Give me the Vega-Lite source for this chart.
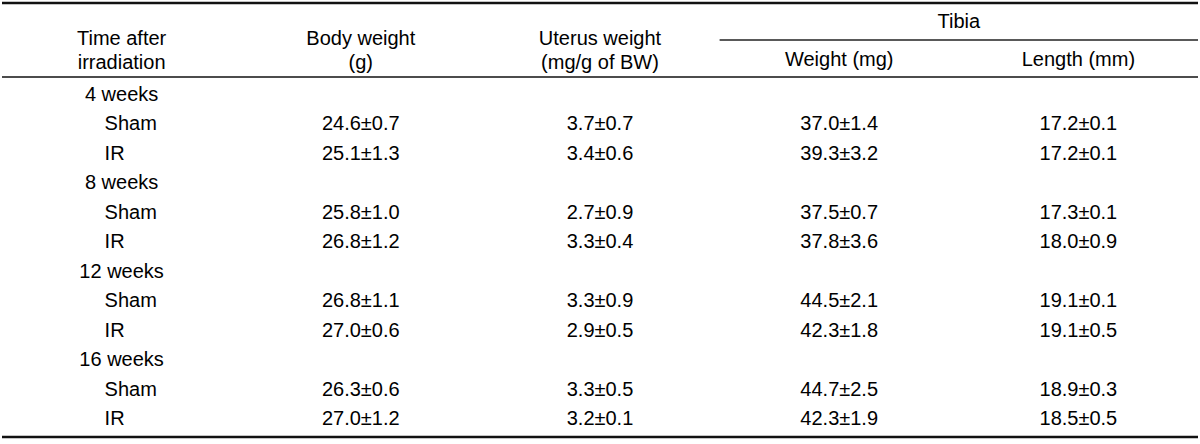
{
  "$schema": "https://vega.github.io/schema/vega-lite/v6.json",
  "width": 1200,
  "height": 444,
  "autosize": {"type": "fit", "contains": "padding"},
  "padding": 0,
  "background": "white",
  "config": {
    "view": {"stroke": null},
    "text": {"font": "Liberation Sans", "fontSize": 20, "color": "#000000", "baseline": "middle"}
  },
  "datasets": {
    "weeks": [
      {"row": "4w", "label": "4 weeks"},
      {"row": "8w", "label": "8 weeks"},
      {"row": "12w", "label": "12 weeks"},
      {"row": "16w", "label": "16 weeks"}
    ],
    "groups": [
      {"row": "4w-Sham", "group": "Sham", "body": "24.6±0.7", "uterus": "3.7±0.7", "tibiaW": "37.0±1.4", "tibiaL": "17.2±0.1"},
      {"row": "4w-IR", "group": "IR", "body": "25.1±1.3", "uterus": "3.4±0.6", "tibiaW": "39.3±3.2", "tibiaL": "17.2±0.1"},
      {"row": "8w-Sham", "group": "Sham", "body": "25.8±1.0", "uterus": "2.7±0.9", "tibiaW": "37.5±0.7", "tibiaL": "17.3±0.1"},
      {"row": "8w-IR", "group": "IR", "body": "26.8±1.2", "uterus": "3.3±0.4", "tibiaW": "37.8±3.6", "tibiaL": "18.0±0.9"},
      {"row": "12w-Sham", "group": "Sham", "body": "26.8±1.1", "uterus": "3.3±0.9", "tibiaW": "44.5±2.1", "tibiaL": "19.1±0.1"},
      {"row": "12w-IR", "group": "IR", "body": "27.0±0.6", "uterus": "2.9±0.5", "tibiaW": "42.3±1.8", "tibiaL": "19.1±0.5"},
      {"row": "16w-Sham", "group": "Sham", "body": "26.3±0.6", "uterus": "3.3±0.5", "tibiaW": "44.7±2.5", "tibiaL": "18.9±0.3"},
      {"row": "16w-IR", "group": "IR", "body": "27.0±1.2", "uterus": "3.2±0.1", "tibiaW": "42.3±1.9", "tibiaL": "18.5±0.5"}
    ],
    "headers": [
      {"col": "label", "text": ["Time after", "irradiation"]},
      {"col": "body", "text": ["Body weight", "(g)"]},
      {"col": "uterus", "text": ["Uterus weight", "(mg/g of BW)"]}
    ],
    "subheaders": [
      {"col": "tibiaW", "text": "Weight (mg)"},
      {"col": "tibiaL", "text": "Length (mm)"}
    ],
    "span": [{"from": "tibiaW", "to": "tibiaL", "text": "Tibia"}]
  },
  "resolve": {"scale": {"y": "independent"}},
  "layer": [
    {
      "data": {"name": "weeks"},
      "mark": {"type": "text", "align": "center"},
      "encoding": {
        "x": {"datum": "label", "type": "nominal", "axis": null,
              "scale": {"type": "band", "domain": ["label", "body", "uterus", "tibiaW", "tibiaL"], "paddingInner": 0, "paddingOuter": 0}},
        "y": {"field": "row", "type": "nominal", "axis": null,
              "scale": {"type": "band", "domain": ["4w", "4w-Sham", "4w-IR", "8w", "8w-Sham", "8w-IR", "12w", "12w-Sham", "12w-IR", "16w", "16w-Sham", "16w-IR"], "range": [77, 437], "paddingInner": 0, "paddingOuter": 0.111}},
        "text": {"field": "label"}
      }
    },
    {
      "data": {"name": "groups"},
      "layer": [
        {
          "mark": {"type": "text", "align": "left", "dx": -17},
          "encoding": {
            "x": {"datum": "label", "type": "nominal", "axis": null,
                  "scale": {"type": "band", "domain": ["label", "body", "uterus", "tibiaW", "tibiaL"], "paddingInner": 0, "paddingOuter": 0}},
            "y": {"field": "row", "type": "nominal", "axis": null,
                  "scale": {"type": "band", "domain": ["4w", "4w-Sham", "4w-IR", "8w", "8w-Sham", "8w-IR", "12w", "12w-Sham", "12w-IR", "16w", "16w-Sham", "16w-IR"], "range": [77, 437], "paddingInner": 0, "paddingOuter": 0.111}},
            "text": {"field": "group"}
          }
        },
        {
          "transform": [{"fold": ["body", "uterus", "tibiaW", "tibiaL"], "as": ["col", "val"]}],
          "mark": {"type": "text", "align": "center"},
          "encoding": {
            "x": {"field": "col", "type": "nominal", "axis": null,
                  "scale": {"type": "band", "domain": ["label", "body", "uterus", "tibiaW", "tibiaL"], "paddingInner": 0, "paddingOuter": 0}},
            "y": {"field": "row", "type": "nominal", "axis": null,
                  "scale": {"type": "band", "domain": ["4w", "4w-Sham", "4w-IR", "8w", "8w-Sham", "8w-IR", "12w", "12w-Sham", "12w-IR", "16w", "16w-Sham", "16w-IR"], "range": [77, 437], "paddingInner": 0, "paddingOuter": 0.111}},
            "text": {"field": "val"}
          }
        }
      ]
    },
    {
      "data": {"name": "headers"},
      "mark": {"type": "text", "align": "center", "lineHeight": 24, "dy": -1},
      "encoding": {
        "x": {"field": "col", "type": "nominal", "axis": null,
              "scale": {"type": "band", "domain": ["label", "body", "uterus", "tibiaW", "tibiaL"], "paddingInner": 0, "paddingOuter": 0}},
        "y": {"datum": "mid", "type": "nominal", "axis": null,
              "scale": {"type": "point", "domain": ["top", "l1", "mid", "l3", "hline"], "range": [3, 77], "padding": 0}},
        "text": {"field": "text"}
      }
    },
    {
      "data": {"name": "subheaders"},
      "mark": {"type": "text", "align": "center", "dy": 1},
      "encoding": {
        "x": {"field": "col", "type": "nominal", "axis": null,
              "scale": {"type": "band", "domain": ["label", "body", "uterus", "tibiaW", "tibiaL"], "paddingInner": 0, "paddingOuter": 0}},
        "y": {"datum": "l3", "type": "nominal", "axis": null,
              "scale": {"type": "point", "domain": ["top", "l1", "mid", "l3", "hline"], "range": [3, 77], "padding": 0}},
        "text": {"field": "text"}
      }
    },
    {
      "data": {"name": "span"},
      "mark": {"type": "text", "align": "center"},
      "encoding": {
        "x": {"field": "from", "type": "nominal", "axis": null, "bandPosition": 1,
              "scale": {"type": "band", "domain": ["label", "body", "uterus", "tibiaW", "tibiaL"], "paddingInner": 0, "paddingOuter": 0}},
        "y": {"datum": "l1", "type": "nominal", "axis": null,
              "scale": {"type": "point", "domain": ["top", "l1", "mid", "l3", "hline"], "range": [3, 77], "padding": 0}},
        "text": {"field": "text"}
      }
    },
    {
      "data": {"name": "span"},
      "mark": {"type": "rule", "color": "#222222", "strokeWidth": 1.3},
      "encoding": {
        "x": {"field": "from", "type": "nominal", "axis": null, "bandPosition": 0,
              "scale": {"type": "band", "domain": ["label", "body", "uterus", "tibiaW", "tibiaL"], "paddingInner": 0, "paddingOuter": 0}},
        "x2": {"field": "to", "bandPosition": 1},
        "y": {"datum": "mid", "type": "nominal", "axis": null,
              "scale": {"type": "point", "domain": ["top", "l1", "mid", "l3", "hline"], "range": [3, 77], "padding": 0}}
      }
    },
    {
      "data": {"values": [{"line": "top", "w": "thick"}, {"line": "hline", "w": "thin"}]},
      "mark": {"type": "rule", "color": "#111111"},
      "encoding": {
        "y": {"field": "line", "type": "nominal", "axis": null,
              "scale": {"type": "point", "domain": ["top", "l1", "mid", "l3", "hline"], "range": [3, 77], "padding": 0}},
        "strokeWidth": {"field": "w", "type": "nominal", "legend": null,
                        "scale": {"domain": ["thick", "thin"], "range": [2.6, 1.3]}}
      }
    },
    {
      "data": {"values": [{"line": "bottom"}]},
      "mark": {"type": "rule", "color": "#111111", "strokeWidth": 2.6},
      "encoding": {
        "y": {"field": "line", "type": "nominal", "axis": null,
              "scale": {"type": "point", "domain": ["hline", "bottom"], "range": [77, 437], "padding": 0}}
      }
    }
  ]
}
